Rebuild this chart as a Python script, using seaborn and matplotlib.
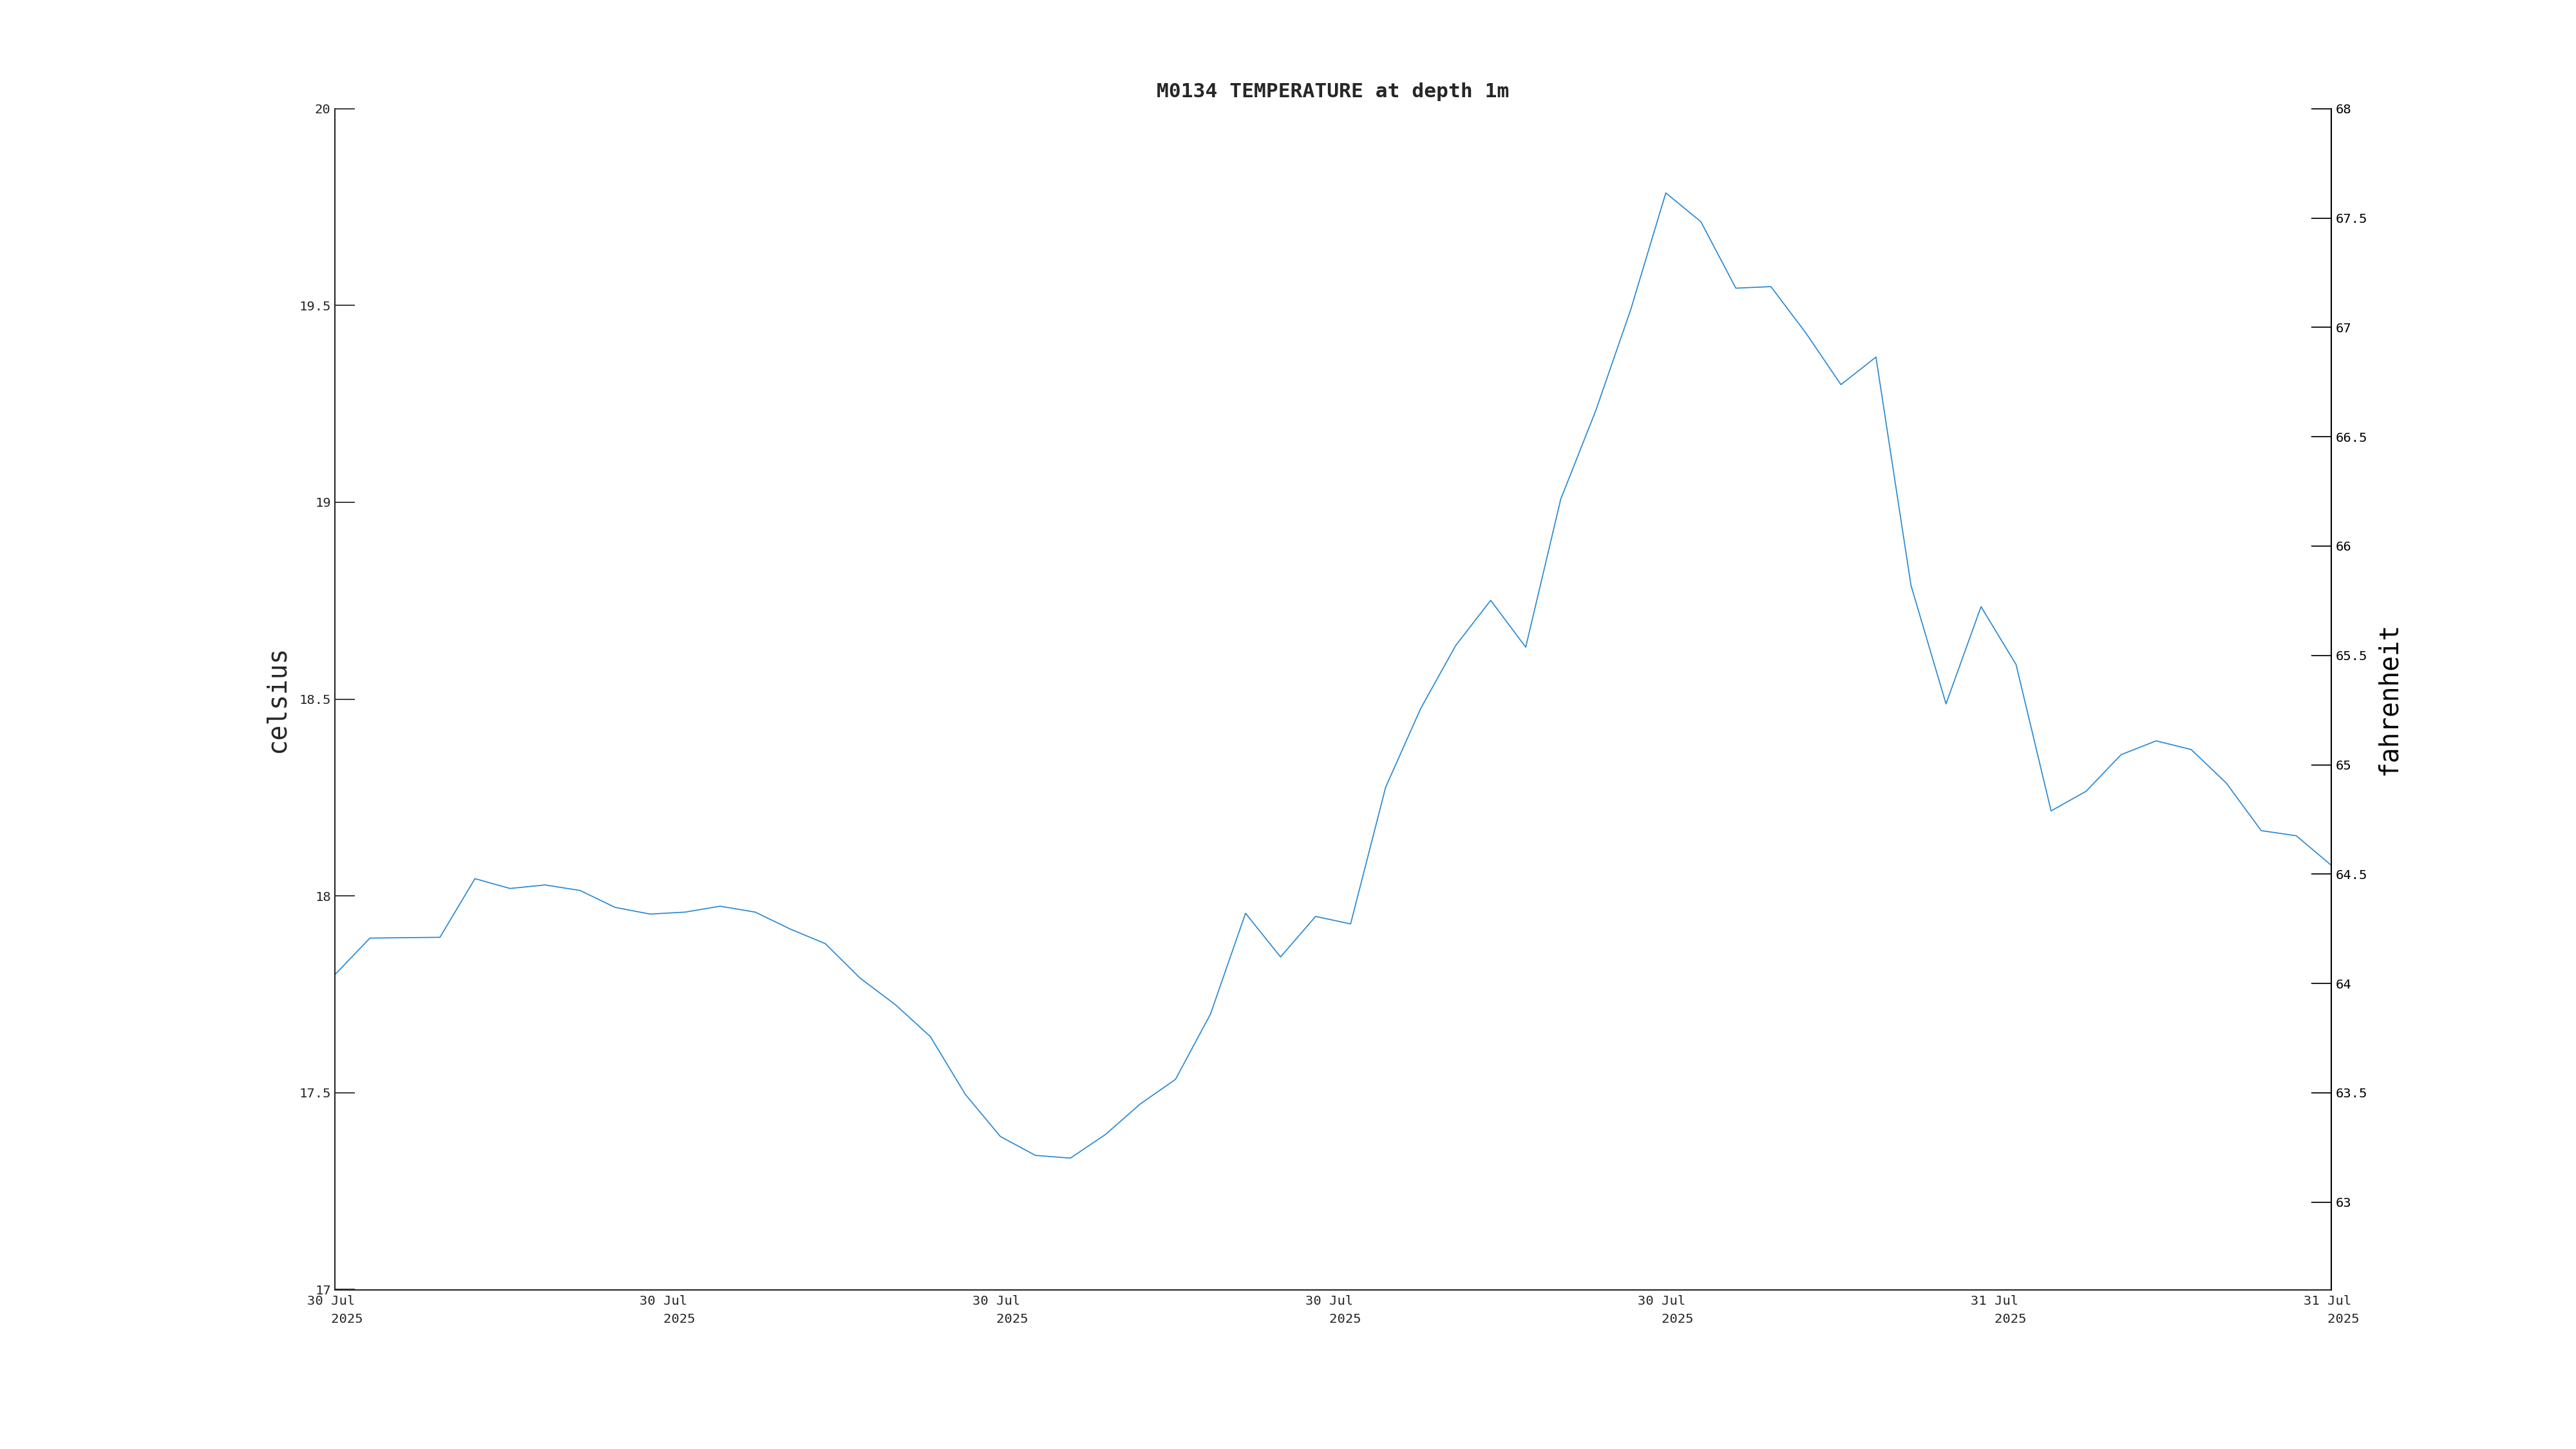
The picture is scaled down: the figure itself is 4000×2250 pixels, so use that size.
import numpy as np
import pandas as pd
import seaborn as sns
import matplotlib
matplotlib.use('Agg')
import matplotlib.pyplot as plt
import matplotlib.dates as mdates
from matplotlib.ticker import FuncFormatter

# readings every 20 minutes, 30 Jul 2025
start_time = '2025-07-30 09:00'
step = '20min'
celsius = [17.80, 17.893, 17.894, 17.895, 18.044, 18.019, 18.028, 18.014, 17.971, 17.954,
           17.959, 17.974, 17.959, 17.916, 17.879, 17.791, 17.724, 17.643, 17.496, 17.389,
           17.341, 17.334, 17.394, 17.472, 17.534, 17.70, 17.956, 17.845, 17.948, 17.929,
           18.276, 18.476, 18.636, 18.751, 18.632, 19.008, 19.233, 19.49, 19.786, 19.713,
           19.544, 19.548, 19.43, 19.299, 19.369, 18.789, 18.488, 18.735, 18.588, 18.216,
           18.266, 18.359, 18.394, 18.372, 18.287, 18.166, 18.153, 18.078]
c_ticks = [17, 17.5, 18, 18.5, 19, 19.5, 20]
f_ticks = [63, 63.5, 64, 64.5, 65, 65.5, 66, 66.5, 67, 67.5, 68]

times = pd.date_range(start_time, periods=len(celsius), freq=step)
data = pd.DataFrame({'time': times, 'celsius': celsius})

sns.set_style('white')
plt.rcParams['font.family'] = ['DejaVu Sans Mono']

axis_col = '#262626'
fig = plt.figure(figsize=(16, 9), dpi=250)
ax = fig.add_axes([0.13, 0.11, 0.775, 0.815])

sns.lineplot(data=data, x='time', y='celsius', ax=ax, color='#2a8ad4', linewidth=0.5)

ax.set_ylim(c_ticks[0], c_ticks[-1])
ax.set_yticks(c_ticks)
ax.yaxis.set_major_formatter(FuncFormatter(lambda v, p: f'{v:g}'))

t0 = mdates.date2num(times[0])
t1 = mdates.date2num(times[-1])
ax.set_xlim(t0, t1)
xt = np.linspace(t0, t1, 7)
ax.set_xticks(xt)
xlabels = []
for v in xt:
    d = mdates.num2date(v)
    xlabels.append(f"{d:%d %b}\n   {d:%Y}")
ax.set_xticklabels(xlabels)
for lab in ax.get_xticklabels():
    lab.set_multialignment('left')
    lab.set_linespacing(1.6)

ax.tick_params(axis='both', direction='in', length=9, width=0.5, colors=axis_col,
               labelsize=5.9, pad=1.8)
ax.tick_params(axis='x', pad=2.5)
for s in ['top', 'right']:
    ax.spines[s].set_visible(False)
for s in ['left', 'bottom']:
    ax.spines[s].set_color(axis_col)
    ax.spines[s].set_linewidth(0.6)

ax.set_xlabel('')
ax.set_ylabel('celsius', fontsize=11.4, color=axis_col, labelpad=4)
ax.set_title('M0134 TEMPERATURE at depth 1m', fontsize=9, fontweight='bold', pad=5)

ax2 = ax.twinx()
ax2.set_ylim(c_ticks[0] * 1.8 + 32, c_ticks[-1] * 1.8 + 32)
ax2.set_yticks(f_ticks)
ax2.yaxis.set_major_formatter(FuncFormatter(lambda v, p: f'{v:g}'))
ax2.tick_params(axis='y', direction='in', length=9, width=0.5, colors='black',
                labelsize=5.9, pad=1.8)
ax2.tick_params(axis='x', bottom=False, top=False, labelbottom=False)
for s in ['top', 'left', 'bottom']:
    ax2.spines[s].set_visible(False)
ax2.spines['right'].set_color('black')
ax2.spines['right'].set_linewidth(0.6)
ax2.set_ylabel('fahrenheit', fontsize=11.4, color='black', labelpad=4)

fig.savefig('out.png', dpi=250, facecolor='white')
